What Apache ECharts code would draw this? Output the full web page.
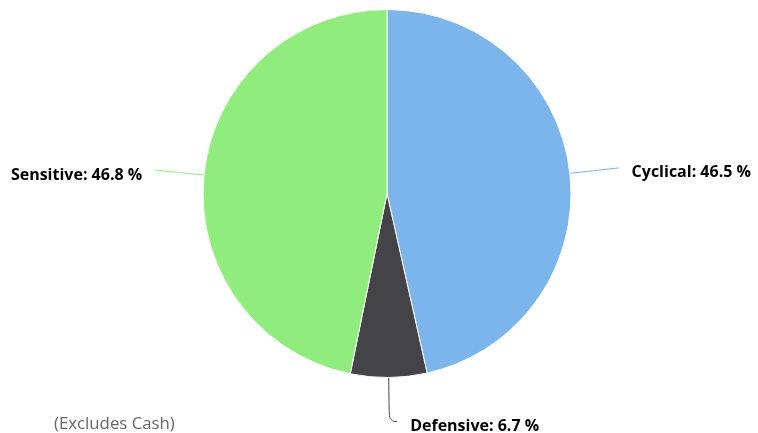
<!DOCTYPE html>
<html>
<head>
<meta charset="utf-8">
<script src="https://cdn.jsdelivr.net/npm/echarts@6/dist/echarts.min.js"></script>
<style>
html,body{margin:0;padding:0;background:#fff;}
#chart{width:758px;height:433px;}
</style>
</head>
<body>
<div id="chart"></div>
<script>
const categories = ['Cyclical', 'Defensive', 'Sensitive'];
const values = [46.5, 6.7, 46.8];
const colors = ['#7cb5ec', '#434348', '#90ed7d'];
const footnote = '(Excludes Cash)';

const lineSettings = [
  { length: 49, length2: 0, smooth: 0 },
  { length: 44, length2: 8, smooth: 0.5 },
  { length: 49, length2: 0, smooth: 0 }
];

const chart = echarts.init(document.getElementById('chart'), null, { renderer: 'canvas' });
chart.setOption({
  animation: false,
  backgroundColor: '#ffffff',
  graphic: [{
    type: 'text',
    left: 54,
    top: 416,
    style: { text: footnote, fill: '#666666', font: '16.8px "Open Sans", sans-serif' }
  }],
  series: [{
    type: 'pie',
    center: [387, 193.5],
    radius: [0, 184],
    startAngle: 90,
    clockwise: true,
    avoidLabelOverlap: false,
    itemStyle: { borderColor: '#ffffff', borderWidth: 1 },
    label: {
      show: true,
      formatter: p => '{gap| }\n{t|' + p.name + ': ' + p.value + ' %}',
      distanceToLabelLine: 13,
      rich: {
        gap: { fontSize: 1, lineHeight: 10, height: 10 },
        t: {
          color: '#000000',
          fontFamily: 'Open Sans',
          fontWeight: 'bold',
          fontSize: 16,
          lineHeight: 20
        }
      }
    },
    labelLine: { lineStyle: { width: 1 } },
    data: categories.map((c, i) => ({
      name: c,
      value: values[i],
      itemStyle: { color: colors[i] },
      labelLine: lineSettings[i]
    }))
  }]
});
</script>
</body>
</html>
